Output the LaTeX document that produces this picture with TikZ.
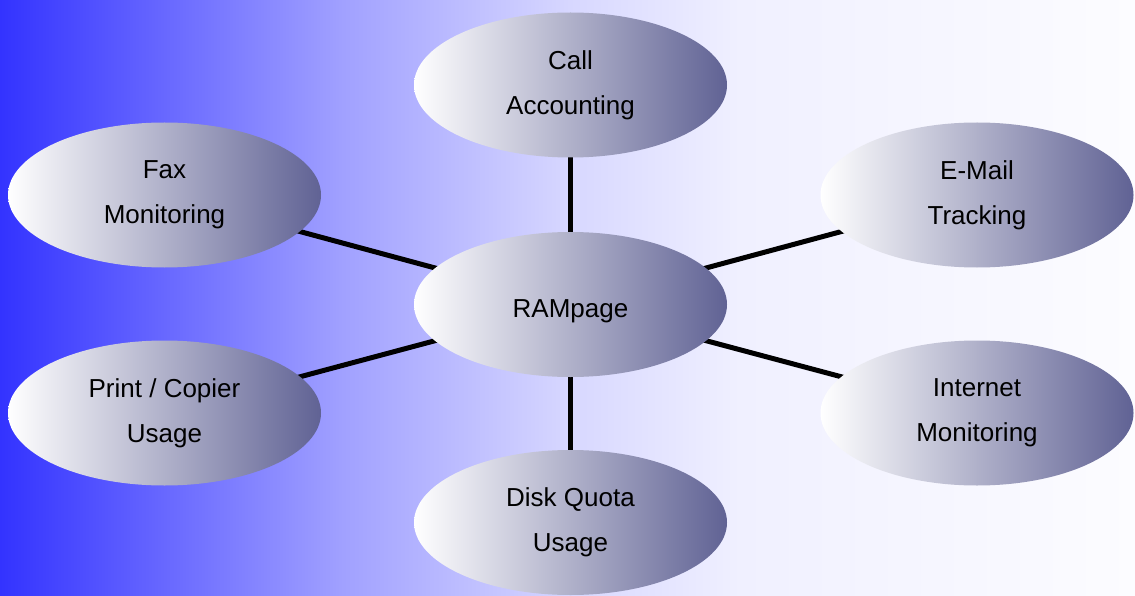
\documentclass[tikz,border=0pt]{standalone}
\usepackage{fontspec}
\setmainfont{Liberation Sans}
\usetikzlibrary{shapes.geometric}
\definecolor{bgA}{RGB}{51,51,255}
\definecolor{bgB}{RGB}{160,160,255}
\definecolor{bgC}{RGB}{215,215,255}
\definecolor{bgD}{RGB}{240,240,255}
\definecolor{bgE}{RGB}{252,252,255}
\definecolor{ellR}{RGB}{96,98,148}
\tikzset{
  bubble/.style={ellipse, minimum width=313pt, minimum height=145pt, inner sep=0pt,
    left color=white, right color=ellR, align=center,
    font=\fontsize{26}{45}\selectfont},
  link/.style={line width=5pt, black}
}
\begin{document}
\begin{tikzpicture}[x=1pt,y=-1pt]
\useasboundingbox (0,0) rectangle (1135,596);
\shade[left color=bgA, right color=bgB] (0,0) rectangle (340,596);
\shade[left color=bgB, right color=bgC] (339.5,0) rectangle (570,596);
\shade[left color=bgC, right color=bgD] (569.5,0) rectangle (740,596);
\shade[left color=bgD, right color=bgE] (739.5,0) rectangle (1135,596);

\coordinate (cR) at (570.5,304.5);
\coordinate (cC) at (570.5,85);
\coordinate (cD) at (570.5,522.5);
\coordinate (cF) at (164.5,195);
\coordinate (cP) at (164.5,413);
\coordinate (cE) at (977,195);
\coordinate (cI) at (977,413);

\draw[link] (cC) -- (cR);
\draw[link] (cD) -- (cR);
\draw[link] (cF) -- (cR);
\draw[link] (cP) -- (cR);
\draw[link] (cE) -- (cR);
\draw[link] (cI) -- (cR);

\node[bubble, text height=25pt, text depth=0pt] (ram) at (cR) {RAMpage};
\node[bubble] (call) at (cC) {Call\\Accounting};
\node[bubble] (disk) at (cD) {Disk Quota\\Usage};
\node[bubble] (fax) at (cF) {Fax\\Monitoring};
\node[bubble] (print) at (cP) {Print / Copier\\Usage};
\node[bubble] (mail) at (cE) {E-Mail\\Tracking};
\node[bubble] (net) at (cI) {Internet\\Monitoring};
\end{tikzpicture}
\end{document}
